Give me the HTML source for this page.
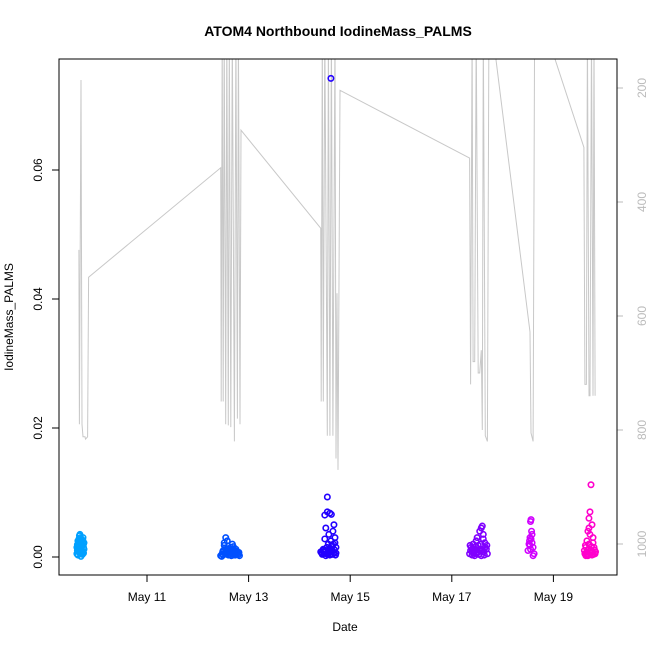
<!DOCTYPE html>
<html><head><meta charset="utf-8"><style>
body{margin:0;background:#fff}
svg{display:block;font-family:"Liberation Sans",sans-serif}
</style></head><body>
<svg id="chart" width="650" height="650">
<text x="338" y="36" font-size="14" font-weight="bold" text-anchor="middle">ATOM4 Northbound IodineMass_PALMS</text>
<text x="345" y="631" font-size="12" text-anchor="middle">Date</text>
<text transform="translate(13,317) rotate(-90)" font-size="12" text-anchor="middle">IodineMass_PALMS</text>
<defs><clipPath id="pc"><rect x="59" y="59" width="558" height="516"/></clipPath></defs>
<g id="line" clip-path="url(#pc)"></g>
<g id="pts" clip-path="url(#pc)"></g>
<g id="axes"></g>
<rect x="59" y="59" width="558" height="516" fill="none" stroke="#000"/>
</svg>
<script>
const xTickDays=[11,13,15,17,19];
const xTickLabels=["May 11","May 13","May 15","May 17","May 19"];
const yTicks=[0,0.02,0.04,0.06];
const yTickLabels=["0.00","0.02","0.04","0.06"];
const rTicks=[200,400,600,800,1000];
const lineDays=[9.66,9.67,9.70,9.72,9.74,9.78,9.79,9.83,9.85,12.45,12.46,12.48,12.50,12.52,12.55,12.57,12.60,12.62,12.65,12.68,12.72,12.75,12.78,12.80,12.83,12.85,14.42,14.43,14.45,14.47,14.50,14.55,14.57,14.60,14.63,14.66,14.70,14.72,14.74,14.76,14.80,17.35,17.37,17.40,17.42,17.45,17.48,17.52,17.55,17.58,17.60,17.62,17.66,17.70,17.73,17.80,18.54,18.56,18.60,18.63,18.85,19.60,19.62,19.65,19.67,19.70,19.72,19.75,19.78,19.80,19.82];
const lineVals=[484,790,186,790,812,812,816,812,532,340,750,100,750,100,790,100,792,100,795,100,820,100,780,100,790,274,446,750,100,750,100,810,100,810,100,810,100,850,560,870,204,323,720,100,680,680,100,700,700,660,800,100,810,820,100,100,628,805,820,100,100,304,720,720,100,740,740,100,740,100,740];
const groupColors=["#00a0ff","#0050ff","#2200ff","#8000ff","#d000ff","#ff00cc"];
const g1Days=[9.62,9.64,9.65,9.66,9.67,9.68,9.69,9.70,9.71,9.72,9.73,9.74,9.75,9.76,9.64,9.68,9.72,9.70,9.66,9.74,9.67,9.71,9.63,9.65,9.69,9.73,9.75,9.62,9.66,9.70,9.74,9.68,9.72,9.64,9.76,9.63,9.67,9.71,9.75,9.69];
const g1Vals=[0.0005,0.0012,0.0020,0.0028,0.0033,0.0035,0.0030,0.0025,0.0018,0.0010,0.0004,0.0008,0.0015,0.0022,0.0003,0.0006,0.0027,0.0001,0.0016,0.0030,0.0024,0.0012,0.0010,0.0008,0.0020,0.0018,0.0006,0.0015,0.0022,0.0013,0.0025,0.0009,0.0005,0.0025,0.0012,0.0019,0.0011,0.0007,0.0020,0.0014];
const g2Days=[12.45,12.48,12.50,12.52,12.55,12.58,12.60,12.62,12.65,12.68,12.70,12.72,12.75,12.78,12.80,12.82,12.55,12.60,12.66,12.70,12.52,12.64,12.74,12.47,12.50,12.53,12.57,12.62,12.67,12.72,12.77,12.81,12.49,12.56,12.63,12.69,12.76,12.59,12.71,12.54];
const g2Vals=[0.0002,0.0005,0.0010,0.0018,0.0030,0.0025,0.0012,0.0008,0.0015,0.0020,0.0010,0.0006,0.0012,0.0008,0.0004,0.0002,0.0006,0.0003,0.0002,0.0016,0.0022,0.0004,0.0003,0.0001,0.0003,0.0006,0.0009,0.0004,0.0007,0.0010,0.0005,0.0007,0.0008,0.0012,0.0010,0.0004,0.0009,0.0006,0.0003,0.0014];
const g3Days=[14.42,14.45,14.47,14.50,14.52,14.55,14.57,14.60,14.62,14.65,14.68,14.70,14.72,14.55,14.58,14.63,14.66,14.60,14.52,14.57,14.64,14.68,14.50,14.62,14.70,14.57,14.44,14.48,14.53,14.58,14.61,14.65,14.69,14.72,14.46,14.51,14.56,14.59,14.63,14.67,14.71,14.54];
const g3Vals=[0.0008,0.0004,0.0012,0.0065,0.0045,0.0070,0.0020,0.0068,0.0025,0.0010,0.0050,0.0030,0.0015,0.0093,0.0035,0.0066,0.0040,0.0003,0.0002,0.0010,0.0018,0.0006,0.0028,0.0742,0.0022,0.0005,0.0006,0.0008,0.0005,0.0007,0.0012,0.0004,0.0011,0.0006,0.0010,0.0009,0.0004,0.0013,0.0008,0.0020,0.0003,0.0015];
const g4Days=[17.35,17.38,17.40,17.42,17.45,17.48,17.50,17.52,17.55,17.58,17.60,17.62,17.65,17.68,17.70,17.58,17.62,17.45,17.52,17.66,17.40,17.55,17.37,17.43,17.47,17.53,17.57,17.63,17.69,17.41,17.49,17.56,17.64,17.36,17.60,17.50];
const g4Vals=[0.0005,0.0015,0.0008,0.0020,0.0010,0.0025,0.0030,0.0018,0.0040,0.0045,0.0048,0.0035,0.0022,0.0012,0.0005,0.0002,0.0028,0.0002,0.0008,0.0015,0.0003,0.0012,0.0010,0.0006,0.0016,0.0004,0.0020,0.0008,0.0018,0.0013,0.0005,0.0009,0.0003,0.0018,0.0011,0.0013];
const g5Days=[18.50,18.52,18.54,18.55,18.56,18.58,18.60,18.62,18.53,18.57,18.55,18.60,18.54,18.56,18.58];
const g5Vals=[0.0010,0.0020,0.0030,0.0055,0.0058,0.0035,0.0015,0.0005,0.0025,0.0040,0.0012,0.0002,0.0018,0.0028,0.0022];
const g6Days=[19.62,19.64,19.66,19.68,19.70,19.72,19.74,19.76,19.78,19.80,19.82,19.68,19.70,19.72,19.66,19.74,19.64,19.78,19.70,19.76,19.61,19.65,19.69,19.73,19.77,19.81,19.63,19.67,19.71,19.75,19.79,19.83];
const g6Vals=[0.0005,0.0015,0.0025,0.0040,0.0060,0.0070,0.0112,0.0050,0.0030,0.0015,0.0005,0.0002,0.0020,0.0035,0.0008,0.0010,0.0002,0.0022,0.0045,0.0003,0.0010,0.0004,0.0012,0.0006,0.0008,0.0011,0.0018,0.0003,0.0009,0.0016,0.0004,0.0008];
const groupDays=[g1Days,g2Days,g3Days,g4Days,g5Days,g6Days];
const groupVals=[g1Vals,g2Vals,g3Vals,g4Vals,g5Vals,g6Vals];

const NS="http://www.w3.org/2000/svg";
function xs(d){return 147+(d-11)*50.8;}
function ys(v){return 557-v*6450;}
function yr(p){return 88+(p-200)*114/200;}
function mk(tag,attrs,parent){const e=document.createElementNS(NS,tag);for(const k in attrs)e.setAttribute(k,attrs[k]);parent.appendChild(e);return e;}
const axes=document.getElementById('axes');
xTickDays.forEach((d,i)=>{
  const t=mk('line',{x1:xs(d),x2:xs(d),y1:575,y2:582,stroke:'#000'},axes);
  
  
  const l=mk('text',{x:xs(d),y:601,'font-size':12,'text-anchor':'middle'},axes);
  l.textContent=xTickLabels[i];
  
  
});
yTicks.forEach((v,i)=>{
  const t=mk('line',{x1:52,x2:59,y1:ys(v),y2:ys(v),stroke:'#000'},axes);
  
  
  const l=mk('text',{transform:`translate(42,${ys(v)}) rotate(-90)`,'font-size':12,'text-anchor':'middle'},axes);
  l.textContent=yTickLabels[i];
  
  
});
rTicks.forEach(p=>{
  const t=mk('line',{x1:617,x2:623,y1:yr(p),y2:yr(p),stroke:'#bbb'},axes);
  
  
  const l=mk('text',{transform:`translate(646,${yr(p)}) rotate(-90)`,'font-size':12,'text-anchor':'middle',fill:'#bbb'},axes);
  l.textContent=p;
  
  
});
const lg=document.getElementById('line');
const pts=lineDays.map((d,i)=>xs(d).toFixed(1)+','+yr(lineVals[i]).toFixed(1)).join(' ');
const pl=mk('polyline',{points:pts,fill:'none',stroke:'#c8c8c8','stroke-width':1},lg);


const pg=document.getElementById('pts');
groupDays.forEach((ds,gi)=>{
  ds.forEach((d,i)=>{
    const c=mk('circle',{cx:xs(d),cy:ys(groupVals[gi][i]),r:2.7,fill:'none',stroke:groupColors[gi],'stroke-width':1.6},pg);
    
    
  });
});
</script>
</body></html>
